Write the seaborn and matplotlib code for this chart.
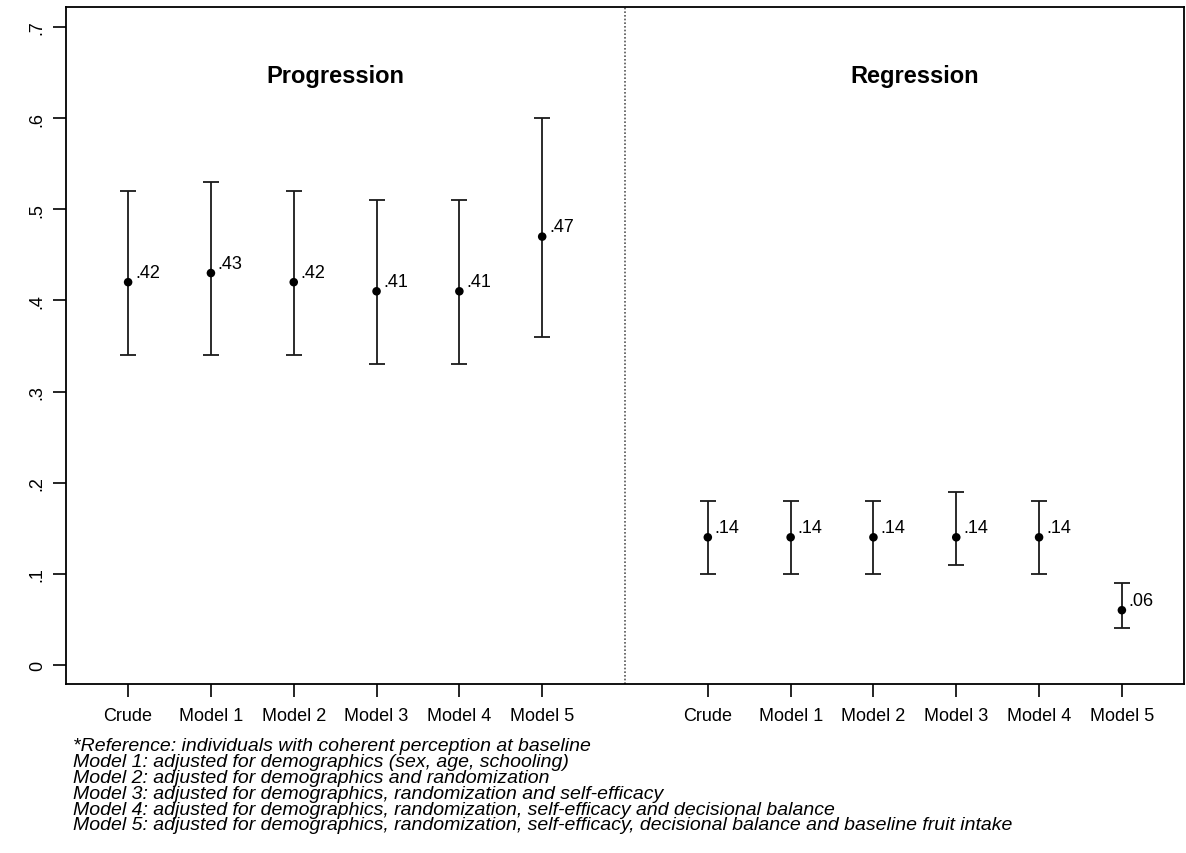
import pandas as pd
import seaborn as sns
import matplotlib.pyplot as plt

# data
models = ['Crude', 'Model 1', 'Model 2', 'Model 3', 'Model 4', 'Model 5']
prog_est = [0.42, 0.43, 0.42, 0.41, 0.41, 0.47]
prog_lo = [0.34, 0.34, 0.34, 0.33, 0.33, 0.36]
prog_hi = [0.52, 0.53, 0.52, 0.51, 0.51, 0.60]
reg_est = [0.14, 0.14, 0.14, 0.14, 0.14, 0.06]
reg_lo = [0.10, 0.10, 0.10, 0.11, 0.10, 0.04]
reg_hi = [0.18, 0.18, 0.18, 0.19, 0.18, 0.09]
panels = ['Progression', 'Regression']
ytick_vals = [0, 0.1, 0.2, 0.3, 0.4, 0.5, 0.6, 0.7]
ytick_labels = ['0', '.1', '.2', '.3', '.4', '.5', '.6', '.7']
notes = [
    '*Reference: individuals with coherent perception at baseline',
    'Model 1: adjusted for demographics (sex, age, schooling)',
    'Model 2: adjusted for demographics and randomization',
    'Model 3: adjusted for demographics, randomization and self-efficacy',
    'Model 4: adjusted for demographics, randomization, self-efficacy and decisional balance',
    'Model 5: adjusted for demographics, randomization, self-efficacy, decisional balance and baseline fruit intake',
]

# long table, regression block shifted by 7 on the x axis
n = len(models)
df = pd.DataFrame({
    'group': [panels[0]] * n + [panels[1]] * n,
    'model': models + models,
    'pos': list(range(1, n + 1)) + list(range(n + 2, 2 * n + 2)),
    'est': prog_est + reg_est,
    'lo': prog_lo + reg_lo,
    'hi': prog_hi + reg_hi,
})

sns.set_theme(style='white')
plt.rcParams['font.family'] = ['Liberation Sans', 'DejaVu Sans']
plt.rcParams['text.color'] = 'black'
plt.rcParams['xtick.color'] = 'black'
plt.rcParams['ytick.color'] = 'black'
plt.rcParams['axes.labelcolor'] = 'black'

fig = plt.figure(figsize=(11.86, 8.54), dpi=100)
ax = fig.add_axes([66 / 1186, 1 - 685 / 854, 1118 / 1186, 677 / 854])

ax.errorbar(df['pos'], df['est'],
            yerr=[df['est'] - df['lo'], df['hi'] - df['est']],
            fmt='none', ecolor='#1a1a1a', elinewidth=1.3, capsize=5.5, capthick=1.3)
sns.scatterplot(data=df, x='pos', y='est', color='black', s=38,
                edgecolor='none', ax=ax, zorder=3, legend=False)

# value labels
for _, r in df.iterrows():
    ax.annotate(f"{r['est']:.2f}".lstrip('0'), (r['pos'], r['est']),
                xytext=(5, 7), textcoords='offset points',
                ha='left', va='center', fontsize=13)

# separator between the two blocks
ax.axvline(n + 1, color='#555555', linestyle=(0, (1, 1.2)), linewidth=1.2)

# panel titles
ax.text(3.5, 0.647, panels[0], ha='center', va='center', fontsize=17, fontweight='bold')
ax.text(n + 1 + 3.5, 0.647, panels[1], ha='center', va='center', fontsize=17, fontweight='bold')

ax.set_xlim(0.25, 2 * n + 1.75)
ax.set_ylim(-0.021, 0.722)
ax.set_xticks(df['pos'])
ax.set_xticklabels(df['model'], fontsize=13)
ax.set_yticks(ytick_vals)
ax.set_yticklabels(ytick_labels, fontsize=13, rotation=90, va='center')
ax.set_xlabel('')
ax.set_ylabel('')
ax.tick_params(axis='both', which='major', length=9.5, width=1.2,
               color='black', direction='out', bottom=True, left=True)
ax.tick_params(axis='x', pad=7)
ax.tick_params(axis='y', pad=5)
for s in ax.spines.values():
    s.set_color('black')
    s.set_linewidth(1.3)

# footnotes
for i, line in enumerate(notes):
    fig.text(73 / 1186, 1 - (747 + i * 15.8) / 854, line, ha='left', va='center',
             fontsize=14, fontstyle='italic')

plt.savefig('out.png', dpi=100)
